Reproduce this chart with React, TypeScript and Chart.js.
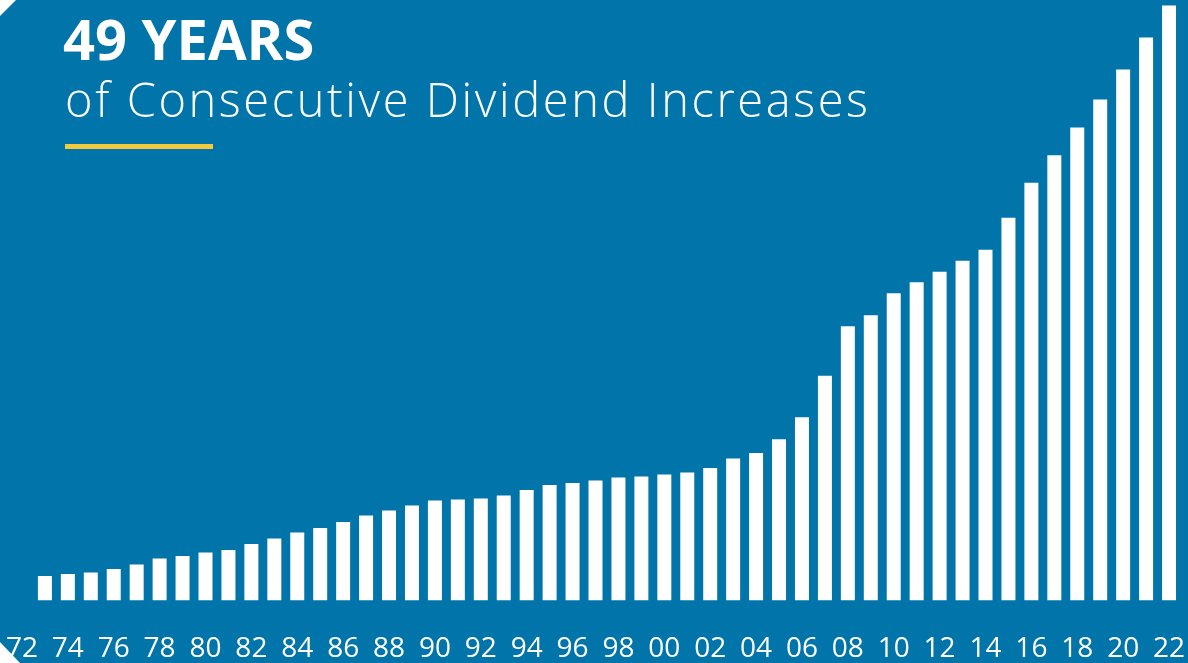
import React, { useEffect, useRef } from "react";
import { Chart, registerables } from "chart.js";

Chart.register(...registerables);

const categories: string[] = [
  "72", "73", "74", "75", "76", "77", "78", "79", "80", "81",
  "82", "83", "84", "85", "86", "87", "88", "89", "90", "91",
  "92", "93", "94", "95", "96", "97", "98", "99", "00", "01",
  "02", "03", "04", "05", "06", "07", "08", "09", "10", "11",
  "12", "13", "14", "15", "16", "17", "18", "19", "20", "21", "22",
];

// Relative dividend level (index units), 1972 has no bar
const dividendValues: (number | null)[] = [
  null, 24.5, 26.5, 28, 31.5, 36, 42, 44.5, 48, 50.5,
  56.5, 62, 68, 72.5, 78.5, 85, 90, 95, 100, 101,
  102, 105, 110.5, 115.5, 117.5, 120, 123, 124, 126, 128,
  132.5, 142, 147.5, 161, 183, 224.5, 274, 285, 307, 318,
  328.5, 339.5, 350.5, 382.5, 417.5, 445, 472.5, 500.5, 530.5, 562.5, 594.5,
];

const shownTickLabels: string[] = [
  "72", "74", "76", "78", "80", "82", "84", "86", "88", "90", "92", "94", "96",
  "98", "00", "02", "04", "06", "08", "10", "12", "14", "16", "18", "20", "22",
];

const titleText = "49 YEARS";
const subtitleText = "of Consecutive Dividend Increases";

const BG = "#0174AA";

const decorPlugin = {
  id: "decor",
  beforeDraw(chart: any) {
    const { ctx, width, height } = chart;
    ctx.save();
    ctx.fillStyle = BG;
    ctx.fillRect(0, 0, width, height);
    ctx.restore();
  },
  afterDraw(chart: any) {
    const { ctx, height } = chart;
    ctx.save();
    ctx.fillStyle = "#ffffff";
    ctx.textBaseline = "alphabetic";
    ctx.font = 'bold 56px "Open Sans"';
    ctx.fillText(titleText, 63, 60);

    ctx.font = '300 47px "Open Sans"';
    const w = ctx.measureText(subtitleText).width;
    const target = 803;
    const n = subtitleText.length;
    if ((ctx as any).letterSpacing !== undefined) {
      (ctx as any).letterSpacing = `${(target - w) / (n - 1)}px`;
    }
    ctx.fillText(subtitleText, 65, 117);
    if ((ctx as any).letterSpacing !== undefined) {
      (ctx as any).letterSpacing = "0px";
    }

    ctx.fillStyle = "#F4C93B";
    ctx.fillRect(65, 144, 148, 5);

    // corner cuts
    ctx.fillStyle = "#ffffff";
    ctx.beginPath();
    ctx.moveTo(0, 0);
    ctx.lineTo(16, 0);
    ctx.lineTo(0, 16);
    ctx.closePath();
    ctx.fill();
    ctx.beginPath();
    ctx.moveTo(0, height - 21);
    ctx.lineTo(20, height);
    ctx.lineTo(0, height);
    ctx.closePath();
    ctx.fill();
    ctx.restore();
  },
};

export default function App() {
  const canvasRef = useRef<HTMLCanvasElement | null>(null);

  useEffect(() => {
    if (!canvasRef.current) return;
    const chart = new Chart(canvasRef.current, {
      type: "bar",
      data: {
        labels: categories,
        datasets: [
          {
            data: dividendValues,
            backgroundColor: "#ffffff",
            borderWidth: 0,
            categoryPercentage: 1,
            barPercentage: 0.61,
          },
        ],
      },
      options: {
        animation: false,
        responsive: true,
        maintainAspectRatio: false,
        layout: { padding: { left: 10.5, right: 7.5, top: 0, bottom: 0 } },
        plugins: {
          legend: { display: false },
          tooltip: { enabled: false },
        },
        scales: {
          x: {
            grid: { display: false, drawTicks: false },
            border: { display: false },
            afterFit: (scale: any) => {
              scale.paddingLeft = 0;
              scale.paddingRight = 0;
              scale.height = 62.5;
            },
            ticks: {
              color: "#ffffff",
              font: { family: "Open Sans", size: 28 },
              autoSkip: false,
              maxRotation: 0,
              minRotation: 0,
              padding: 32,
              callback: (_v: any, i: number) => {
                const lab = categories[i];
                return shownTickLabels.includes(lab) && i % 2 === 0 ? lab : "";
              },
            },
          },
          y: {
            display: false,
            min: 0,
            max: 600,
          },
        },
      },
      plugins: [decorPlugin],
    });
    return () => chart.destroy();
  }, []);

  return (
    <div style={{ position: "fixed", left: 0, top: 0, width: 1188, height: 663 }}>
      <canvas ref={canvasRef} />
    </div>
  );
}
